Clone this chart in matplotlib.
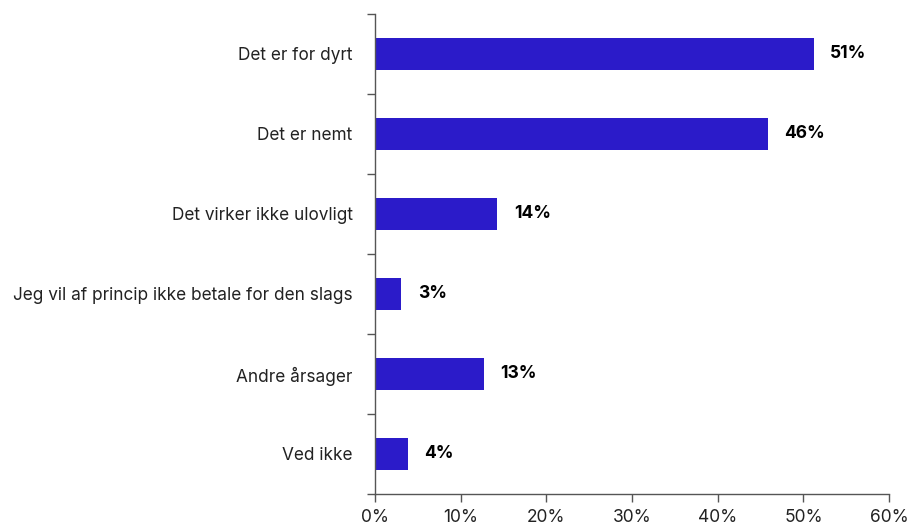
import numpy as np
import matplotlib
matplotlib.use("Agg")
import matplotlib.pyplot as plt

# Data
categories = [
    "Det er for dyrt",
    "Det er nemt",
    "Det virker ikke ulovligt",
    "Jeg vil af princip ikke betale for den slags",
    "Andre årsager",
    "Ved ikke",
]
values = [51.2, 45.9, 14.3, 3.1, 12.7, 3.9]
labels = ["51%", "46%", "14%", "3%", "13%", "4%"]
x_ticks = [0, 10, 20, 30, 40, 50, 60]

plt.rcParams['font.family'] = ['Inter', 'DejaVu Sans']

bar_color = "#2B1BC9"
spine_color = "#555555"
text_color = "#222222"

fig = plt.figure(figsize=(9.1, 5.28), dpi=100)
ax = fig.add_axes([0.412, 0.0644, 0.565, 0.9091])

y = np.arange(len(categories))
ax.barh(y, values, height=0.4, color=bar_color)

for yi, v, lab in zip(y, values, labels):
    ax.text(v + 1.9, yi, lab, va="center", ha="left", fontsize=12.5,
            fontweight="bold", color="black")

ax.set_ylim(len(categories) - 0.5, -0.5)
ax.set_xlim(0, 60)

ax.set_yticks(y)
ax.set_yticklabels(categories, fontsize=12.4, color=text_color)
ax.set_yticks(np.arange(-0.5, len(categories)), minor=True)
ax.tick_params(axis="y", which="major", length=0, pad=16)
ax.tick_params(axis="y", which="minor", length=6, color=spine_color, width=1)

ax.set_xticks(x_ticks)
ax.set_xticklabels([f"{t}%" for t in x_ticks], fontsize=12.5, color=text_color)
ax.tick_params(axis="x", length=6, color=spine_color, width=1, pad=5)

for s in ["top", "right"]:
    ax.spines[s].set_visible(False)
for s in ["left", "bottom"]:
    ax.spines[s].set_color(spine_color)
    ax.spines[s].set_linewidth(1)

fig.savefig("out.png", dpi=100)
